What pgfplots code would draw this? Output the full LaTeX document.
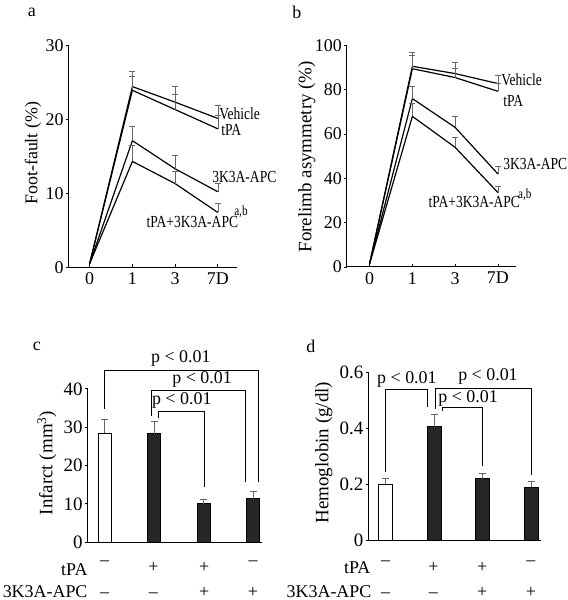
\documentclass[border=0pt]{standalone}
\usepackage{fontspec}
\setmainfont{Liberation Serif}
\newfontfamily\narrowfont[FakeStretch=0.8]{Liberation Serif}
\usepackage{pgfplots}
\pgfplotsset{compat=1.18}
\begin{document}
\fontsize{18}{21}\selectfont
\begin{tikzpicture}
\path (0pt,0pt) rectangle (569pt,600pt);
\pgfplotsset{
  myax/.style={scale only axis, axis lines=left, axis line style={-,line width=1pt},
    tick align=outside, major tick length=3pt, tick style={black, line width=0.8pt},
    /pgf/number format/assume math mode=true,
    ticklabel style={font=\fontsize{18}{20}\selectfont, inner sep=2pt},
    clip=false, anchor=south west},
  ln/.style={black, line width=1.2pt, mark=none},
  eb/.style={only marks, mark=*, mark size=0pt, mark options={draw=none, fill=none}, forget plot,
    error bars/.cd, y dir=plus, y explicit,
    error bar style={draw=black!60, line width=0.6pt},
    error mark options={rotate=90, mark size=3pt, draw=black!60, line width=0.6pt}},
  bareb/.style={error bars/.cd, y dir=plus, y explicit,
    error bar style={black!60, line width=0.7pt},
    error mark options={rotate=90, mark size=3.5pt, black!60, line width=0.7pt}},
}
% ---------- panel a ----------
\begin{axis}[myax, at={(69pt,334pt)}, width=169pt, height=223pt,
  xmin=-0.49, xmax=3.45, ymin=0, ymax=30,
  xtick={0,1,2,3}, xticklabels={0,1,3,7D}, ytick={0,10,20,30},
  x tick style={yshift=3pt}]
\addplot[ln] coordinates {(0,0.5) (1,24.4) (2,22.3) (3,20.1)};
\addplot[ln] coordinates {(0,0.5) (1,23.9) (2,21.3) (3,18.7)};
\addplot[ln] coordinates {(0,0.5) (1,17.1) (2,13.3) (3,10.2)};
\addplot[ln] coordinates {(0,0.5) (1,14.3) (2,11.3) (3,7.4)};
\addplot[eb] coordinates {(1,24.4) +- (0,2.1) (2,22.3) +- (0,2.1) (3,20.1) +- (0,1.8)};
\addplot[eb] coordinates {(1,23.9) +- (0,1.9) (2,21.3) +- (0,2.1) (3,18.7) +- (0,1.8)};
\addplot[eb] coordinates {(1,17.1) +- (0,2.0) (2,13.3) +- (0,1.8) (3,10.2) +- (0,1.2)};
\addplot[eb] coordinates {(1,14.3) +- (0,2.2) (2,11.3) +- (0,1.6) (3,7.4) +- (0,1.3)};
\end{axis}
% ---------- panel b ----------
\begin{axis}[myax, at={(348.3pt,334.3pt)}, width=170pt, height=222.4pt,
  xmin=-0.53, xmax=3.43, ymin=0, ymax=100,
  xtick={0,1,2,3}, xticklabels={0,1,3,7D}, ytick={0,20,40,60,80,100},
  x tick style={yshift=3pt}]
\addplot[ln] coordinates {(0,1.5) (1,90.6) (2,87.3) (3,82.8)};
\addplot[ln] coordinates {(0,1.5) (1,89.5) (2,85.5) (3,79.3)};
\addplot[ln] coordinates {(0,1.5) (1,76) (2,63) (3,42)};
\addplot[ln] coordinates {(0,1.5) (1,68) (2,54) (3,33.6)};
\addplot[eb] coordinates {(1,90.6) +- (0,6.1) (2,87.3) +- (0,5.2) (3,82.8) +- (0,3.7)};
\addplot[eb] coordinates {(1,89.5) +- (0,6.0) (2,85.5) +- (0,4.0) (3,79.3) +- (0,3.5)};
\addplot[eb] coordinates {(1,76) +- (0,5.7) (2,63) +- (0,5.0) (3,42) +- (0,3.3)};
\addplot[eb] coordinates {(1,68) +- (0,5.8) (2,54) +- (0,4.7) (3,33.6) +- (0,3.0)};
\end{axis}
% ---------- panel c ----------
\begin{axis}[myax, at={(88pt,58pt)}, width=175pt, height=154pt,
  xmin=-0.34, xmax=3.18, ymin=0, ymax=40, ytick={0,10,20,30,40}, xtick=\empty,
  ybar, bar width=13pt,
  ticklabel style={font=\fontsize{19}{21}\selectfont}]
\addplot[fill=white, draw=black, line width=0.8pt, bar shift=0pt, bareb] coordinates {(0,28.5) +- (0,3.5)};
\addplot[fill=black!85, draw=black, line width=0.8pt, bar shift=0pt, bareb] coordinates {(1,28.3) +- (0,3.2) (2,10) +- (0,1.2) (3,11.3) +- (0,1.9)};
\draw[line width=0.8pt] (axis cs:0,34.7) |- (axis cs:3.1,44.9) -- (axis cs:3.1,15.8);
\draw[line width=0.8pt] (axis cs:0.94,33) |- (axis cs:2.85,39.7) -- (axis cs:2.85,15.8);
\draw[line width=0.8pt] (axis cs:1.09,32.4) |- (axis cs:2.01,34) -- (axis cs:2.01,14.5);
\node[font=\fontsize{18}{20}\selectfont] at (axis cs:1.54,47.8) {p < 0.01};
\node[font=\fontsize{18}{20}\selectfont] at (axis cs:1.97,42.4) {p < 0.01};
\node[font=\fontsize{18}{20}\selectfont] at (axis cs:1.56,37) {p < 0.01};
\end{axis}
% ---------- panel d ----------
\begin{axis}[myax, at={(370pt,60pt)}, width=173pt, height=168.3pt,
  xmin=-0.35, xmax=3.2, ymin=0, ymax=0.6, ytick={0,0.2,0.4,0.6}, yticklabels={0,0.2,0.4,0.6},
  xtick=\empty, ybar, bar width=14pt,
  ticklabel style={font=\fontsize{19}{21}\selectfont}]
\addplot[fill=white, draw=black, line width=0.8pt, bar shift=0pt, bareb] coordinates {(0,0.2) +- (0,0.022)};
\addplot[fill=black!85, draw=black, line width=0.8pt, bar shift=0pt, bareb] coordinates {(1,0.406) +- (0,0.046) (2,0.22) +- (0,0.021) (3,0.19) +- (0,0.019)};
\draw[line width=0.8pt] (axis cs:0,0.244) |- (axis cs:0.86,0.541) -- (axis cs:0.86,0.478);
\draw[line width=0.8pt] (axis cs:1.02,0.469) |- (axis cs:3.0,0.543) -- (axis cs:3.0,0.235);
\draw[line width=0.8pt] (axis cs:1.18,0.463) |- (axis cs:2.0,0.475) -- (axis cs:2.0,0.265);
\node[font=\fontsize{18}{20}\selectfont] at (axis cs:0.44,0.576) {p < 0.01};
\node[font=\fontsize{18}{20}\selectfont] at (axis cs:2.11,0.585) {p < 0.01};
\node[font=\fontsize{18}{20}\selectfont] at (axis cs:1.70,0.508) {p < 0.01};
\end{axis}
% ---------- texts ----------
\node[font=\fontsize{18}{20}\selectfont] at (32pt,590pt) {a};
\node[font=\fontsize{18}{20}\selectfont] at (298pt,590pt) {b};
\node[font=\fontsize{18}{20}\selectfont] at (37pt,255pt) {c};
\node[font=\fontsize{18}{20}\selectfont] at (312pt,255pt) {d};
\node[rotate=90, font=\fontsize{18}{20}\selectfont] at (33pt,448.5pt) {Foot-fault (\%)};
\node[rotate=90, font=\fontsize{19}{21}\selectfont] at (308pt,445pt) {Forelimb asymmetry (\%)};
\node[rotate=90, font=\fontsize{19}{21}\selectfont] at (47pt,137.5pt) {Infarct (mm\textsuperscript{3})};
\node[rotate=90, font=\fontsize{19}{21}\selectfont] at (325pt,148pt) {Hemoglobin (g/dl)};
% line labels
\begin{scope}[every node/.style={anchor=west, inner sep=0pt, font=\narrowfont\fontsize{17}{19}\selectfont}]
\node at (220pt,488pt) {Vehicle};
\node at (222pt,472pt) {tPA};
\node at (213pt,425pt) {3K3A-APC};
\node at (147pt,379pt) {tPA+3K3A-APC};
\node[font=\narrowfont\fontsize{14}{16}\selectfont] at (235pt,390pt) {a,b};
\node at (503pt,522pt) {Vehicle};
\node at (505pt,501pt) {tPA};
\node at (505pt,438pt) {3K3A-APC};
\node at (430pt,400pt) {tPA+3K3A-APC};
\node[font=\narrowfont\fontsize{14}{16}\selectfont] at (520pt,407pt) {a,b};
\end{scope}
% treatment rows
\begin{scope}[every node/.style={font=\fontsize{18}{20}\selectfont, inner sep=0pt}]
\node[anchor=base east] at (88pt,25pt) {tPA};
\node[anchor=base east] at (88pt,2.5pt) {3K3A-APC};
\node at (105pt,37pt) {–}; \node at (154pt,33pt) {+}; \node at (205pt,33pt) {+}; \node at (254pt,37pt) {–};
\node at (105pt,5pt) {–}; \node at (154pt,5pt) {–}; \node at (205pt,8pt) {+}; \node at (254pt,8pt) {+};
\node[anchor=base east] at (372pt,27pt) {tPA};
\node[anchor=base east] at (373pt,2.5pt) {3K3A-APC};
\node at (387pt,37pt) {–}; \node at (435pt,33pt) {+}; \node at (484pt,33pt) {+}; \node at (533pt,37pt) {–};
\node at (387pt,5pt) {–}; \node at (435pt,5pt) {–}; \node at (484pt,8pt) {+}; \node at (533pt,8pt) {+};
\end{scope}
\end{tikzpicture}
\end{document}
